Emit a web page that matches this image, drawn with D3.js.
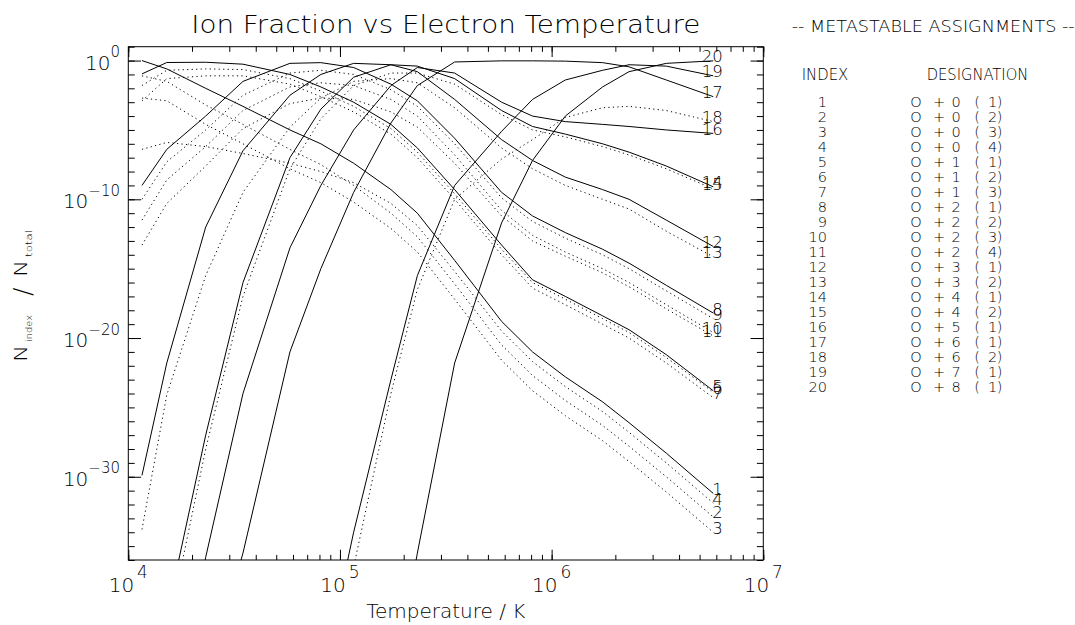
<!DOCTYPE html>
<html>
<head>
<meta charset="utf-8">
<script src="https://cdn.jsdelivr.net/npm/d3@7"></script>
<style>
  body { margin: 0; background: #fff; }
  text { font-family: "DejaVu Sans", sans-serif; font-weight: 200; fill: #000; }
</style>
</head>
<body>
<div id="chart"></div>
<script>
// electron temperature grid (K)
var tempK = [11605, 15200, 23210, 34815, 58025, 81235, 116050, 174075, 232100,
  348150, 580250, 812350, 1160500, 1740750, 2321000, 3481500, 5802500];

// log10( N_index / N_total ), one array per metastable index
var frac01 = [0, -0.6, -2.0, -3.3, -5.0, -6.0, -7.4, -9.3, -11.0, -14.4, -18.8, -21.0, -22.8, -24.6, -26.1, -28.3, -31.2];
var frac02 = [-1.1, -1.5, -3.2, -4.6, -6.4, -7.5, -9.0, -11.0, -12.7, -16.1, -20.5, -22.7, -24.5, -26.3, -27.8, -30.0, -32.9];
var frac03 = [-2.7, -2.9, -4.6, -6.0, -7.8, -8.8, -10.2, -12.1, -13.8, -17.2, -21.6, -23.8, -25.6, -27.4, -28.9, -31.1, -34.0];
var frac04 = [-6.4, -5.9, -6.2, -6.7, -7.4, -8.0, -8.8, -10.3, -11.9, -15.2, -19.5, -21.7, -23.5, -25.3, -26.8, -29.0, -31.9];
var frac05 = [-0.96, -0.14, -0.12, -0.26, -1.0, -1.9, -3.0, -4.6, -6.3, -9.3, -13.3, -15.8, -17.0, -18.4, -19.4, -21.2, -23.8];
var frac06 = [-1.8, -0.7, -0.6, -0.65, -1.3, -2.2, -3.3, -4.9, -6.6, -9.6, -13.6, -16.0, -17.2, -18.6, -19.6, -21.4, -23.9];
var frac07 = [-2.9, -1.3, -1.1, -1.1, -1.7, -2.6, -3.7, -5.3, -7.0, -10.0, -14.0, -16.4, -17.6, -19.0, -20.0, -21.8, -24.3];
var frac08 = [-9.0, -6.4, -4.0, -1.5, -0.2, -0.15, -0.5, -1.7, -2.9, -5.6, -9.5, -11.2, -12.4, -13.6, -14.6, -16.2, -18.2];
var frac09 = [-10.0, -7.3, -5.0, -2.5, -0.9, -0.7, -1.0, -2.1, -3.3, -6.0, -9.9, -11.6, -12.8, -14.0, -15.0, -16.6, -18.6];
var frac10 = [-11.5, -8.6, -6.2, -3.6, -1.9, -1.6, -1.8, -2.8, -4.0, -6.8, -10.8, -12.6, -13.8, -15.0, -16.0, -17.6, -19.6];
var frac11 = [-13.3, -10.3, -7.6, -4.9, -3.1, -2.7, -2.8, -3.7, -4.8, -7.4, -11.2, -13.0, -14.1, -15.3, -16.3, -17.9, -19.85];
var frac12 = [-29.9, -21.8, -12.0, -6.5, -2.5, -1.0, -0.2, -0.3, -0.8, -2.8, -5.7, -7.2, -8.4, -9.3, -10.0, -11.5, -13.4];
var frac13 = [-33.8, -24.1, -15.5, -9.5, -4.8, -2.7, -1.5, -1.3, -1.6, -3.4, -6.3, -7.8, -9.0, -10.0, -10.7, -12.3, -14.15];
var frac14 = [-50, -40, -27, -16, -7.0, -3.5, -1.2, -0.3, -0.4, -1.3, -3.6, -4.75, -5.3, -6.0, -6.6, -7.6, -9.1];
var frac15 = [-52, -41.5, -28, -17, -7.8, -4.2, -1.8, -0.9, -0.9, -1.7, -3.9, -5.0, -5.5, -6.2, -6.8, -7.8, -9.25];
var frac16 = [-65, -50, -35.8, -24, -13.5, -9.0, -5.0, -1.8, -0.5, -0.9, -3.0, -4.0, -4.4, -4.6, -4.75, -5.0, -5.25];
var frac17 = [-80, -62, -45, -35.5, -21, -15, -9.5, -4.5, -1.8, -0.1, -0.02, -0.02, -0.04, -0.15, -0.45, -1.4, -2.6];
var frac18 = [-95, -88, -78, -68, -58, -48, -36.5, -24, -16.5, -10.0, -7.1, -5.7, -4.1, -3.4, -3.3, -3.6, -4.4];
var frac19 = [-95, -88, -78, -68, -57, -45, -34, -23, -15.5, -9.0, -5.1, -2.8, -1.4, -0.7, -0.3, -0.4, -1.1];
var frac20 = [-99, -96, -92, -88, -80, -70, -60, -46, -35.5, -21.8, -11.7, -7.2, -4.0, -1.9, -0.8, -0.2, -0.02];

var series = [frac01, frac02, frac03, frac04, frac05, frac06, frac07, frac08, frac09, frac10,
  frac11, frac12, frac13, frac14, frac15, frac16, frac17, frac18, frac19, frac20];

// metastable assignments
var ionCharge = [0, 0, 0, 0, 1, 1, 1, 2, 2, 2, 2, 3, 3, 4, 4, 5, 6, 6, 7, 8];
var metaNum   = [1, 2, 3, 4, 1, 2, 3, 1, 2, 3, 4, 1, 2, 1, 2, 1, 1, 2, 1, 1];

// axis ticks
var xTickExp = [4, 5, 6, 7];
var yTickExp = [0, -10, -20, -30];

var W = 1075, H = 625;
var plotL = 128.3, plotR = 763.3, plotT = 46.7, plotB = 560;

var svg = d3.select("#chart").append("svg")
  .attr("width", W).attr("height", H);

var x = d3.scaleLog().domain([1e4, 1e7]).range([plotL, plotR]);
var y = d3.scaleLog().domain([1e-36, 1e1]).range([plotB, plotT]);

// title
svg.append("text")
  .attr("x", (plotL + plotR) / 2).attr("y", 33)
  .attr("text-anchor", "middle")
  .style("font-size", "25px")
  .attr("textLength", 509).attr("lengthAdjust", "spacingAndGlyphs")
  .text("Ion Fraction vs Electron Temperature");

// clip
svg.append("clipPath").attr("id", "clip")
  .append("rect").attr("x", plotL).attr("y", plotT)
  .attr("width", plotR - plotL).attr("height", plotB - plotT);

// ticks: IDL style, inward on all four sides
var yMinor = d3.range(-36, 2).map(function (e) { return Math.pow(10, e); });
var yMajor = yTickExp.map(function (e) { return Math.pow(10, e); });
var xMinor = x.ticks();
var xMajor = xTickExp.map(function (e) { return Math.pow(10, e); });

function tickAxis(axis, tr) {
  var g = svg.append("g").attr("transform", tr).call(axis);
  g.select(".domain").remove();
  g.selectAll(".tick line").attr("stroke", "#000").attr("stroke-width", 1);
  g.selectAll(".tick text").remove();
}
tickAxis(d3.axisLeft(y).tickValues(yMinor).tickSize(-6.4), "translate(" + plotL + ",0)");
tickAxis(d3.axisLeft(y).tickValues(yMajor).tickSize(-12.7), "translate(" + plotL + ",0)");
tickAxis(d3.axisRight(y).tickValues(yMinor).tickSize(-6.4), "translate(" + plotR + ",0)");
tickAxis(d3.axisRight(y).tickValues(yMajor).tickSize(-12.7), "translate(" + plotR + ",0)");
tickAxis(d3.axisBottom(x).tickValues(xMinor).tickSize(-5.1), "translate(0," + plotB + ")");
tickAxis(d3.axisBottom(x).tickValues(xMajor).tickSize(-10.3), "translate(0," + plotB + ")");
tickAxis(d3.axisTop(x).tickValues(xMinor).tickSize(-5.1), "translate(0," + plotT + ")");
tickAxis(d3.axisTop(x).tickValues(xMajor).tickSize(-10.3), "translate(0," + plotT + ")");

svg.append("rect")
  .attr("x", plotL).attr("y", plotT)
  .attr("width", plotR - plotL).attr("height", plotB - plotT)
  .attr("fill", "none").attr("stroke", "#000").attr("stroke-width", 1);

// tick labels 10^n
var yl = svg.append("g").selectAll("text").data(yTickExp).enter().append("text")
  .attr("x", 120)
  .attr("y", function (d) { return y(Math.pow(10, d)) + 9; })
  .attr("text-anchor", "end");
yl.append("tspan").style("font-size", "20px").text("10");
yl.append("tspan").style("font-size", "15px").attr("dy", -12.5)
  .text(function (d) { return d < 0 ? "\u2212" + (-d) : d; });

var xl = svg.append("g").selectAll("text").data(xTickExp).enter().append("text")
  .attr("x", function (d) { return x(Math.pow(10, d)); })
  .attr("y", 592)
  .attr("text-anchor", "middle");
xl.append("tspan").style("font-size", "20px").text("10");
xl.append("tspan").style("font-size", "17px").attr("dx", 3).attr("dy", -14)
  .text(function (d) { return d; });

// axis titles
svg.append("text")
  .attr("x", (plotL + plotR) / 2).attr("y", 618)
  .attr("text-anchor", "middle")
  .style("font-size", "20px")
  .text("Temperature / K");

// N_index / N_total, written upward
var yTitle = svg.append("g").attr("transform", "translate(27,0) rotate(-90)");
yTitle.append("text").attr("x", -362).attr("y", 0).style("font-size", "17px")
  .attr("textLength", 17).attr("lengthAdjust", "spacingAndGlyphs").text("N");
yTitle.append("text").attr("x", -342).attr("y", 5).style("font-size", "9.5px")
  .attr("textLength", 27).attr("lengthAdjust", "spacingAndGlyphs").text("index");
yTitle.append("text").attr("x", -296).attr("y", 4).style("font-size", "25px").text("/");
yTitle.append("text").attr("x", -277).attr("y", 0).style("font-size", "17px")
  .attr("textLength", 17).attr("lengthAdjust", "spacingAndGlyphs").text("N");
yTitle.append("text").attr("x", -257).attr("y", 5).style("font-size", "9.5px")
  .attr("textLength", 27).attr("lengthAdjust", "spacingAndGlyphs").text("total");

// curves
var line = d3.line()
  .x(function (d) { return x(d[0]); })
  .y(function (d) { return y(Math.pow(10, d[1])); });

var solidIdx = [1, 5, 8, 12, 14, 16, 17, 19, 20];

var curves = svg.append("g").attr("clip-path", "url(#clip)");
series.forEach(function (s, i) {
  var pts = tempK.map(function (t, j) { return [t, s[j]]; });
  var solid = solidIdx.indexOf(i + 1) >= 0;
  curves.append("path")
    .attr("d", line(pts))
    .attr("fill", "none")
    .attr("stroke", "#000")
    .attr("stroke-width", 1)
    .attr("stroke-dasharray", solid ? null : "1.2,3.3");
});

// index labels at the right end of every curve
svg.append("g").selectAll("text").data(series).enter().append("text")
  .attr("x", x(tempK[tempK.length - 1]) + 9.5)
  .attr("y", function (s) { return y(Math.pow(10, s[s.length - 1])) + 1.5; })
  .attr("text-anchor", "end")
  .style("font-size", "16.5px")
  .text(function (s, i) { return i + 1; });

// metastable assignment table
svg.append("text")
  .attr("x", 791.7).attr("y", 31.5)
  .style("font-size", "15.5px")
  .attr("textLength", 283).attr("lengthAdjust", "spacingAndGlyphs")
  .text("-- METASTABLE ASSIGNMENTS --");
svg.append("text")
  .attr("x", 801.7).attr("y", 80)
  .style("font-size", "15px")
  .attr("textLength", 46.6).attr("lengthAdjust", "spacingAndGlyphs")
  .text("INDEX");
svg.append("text")
  .attr("x", 926.7).attr("y", 80)
  .style("font-size", "15px")
  .attr("textLength", 101.6).attr("lengthAdjust", "spacingAndGlyphs")
  .text("DESIGNATION");

var rows = svg.append("g").selectAll("g").data(ionCharge).enter().append("g")
  .attr("transform", function (d, i) { return "translate(0," + (107 + 15 * i) + ")"; })
  .style("font-size", "14.5px");
rows.append("text").attr("x", 827).attr("text-anchor", "end")
  .text(function (d, i) { return i + 1; });
rows.append("text").attr("x", 916).attr("text-anchor", "middle").text("O");
rows.append("text").attr("x", 939).attr("text-anchor", "middle").text("+");
rows.append("text").attr("x", 956).attr("text-anchor", "middle").text(function (d) { return d; });
rows.append("text").attr("x", 977).attr("text-anchor", "middle").text("(");
rows.append("text").attr("x", 992.5).attr("text-anchor", "middle").text(function (d, i) { return metaNum[i]; });
rows.append("text").attr("x", 999.5).attr("text-anchor", "middle").text(")");
</script>
</body>
</html>
